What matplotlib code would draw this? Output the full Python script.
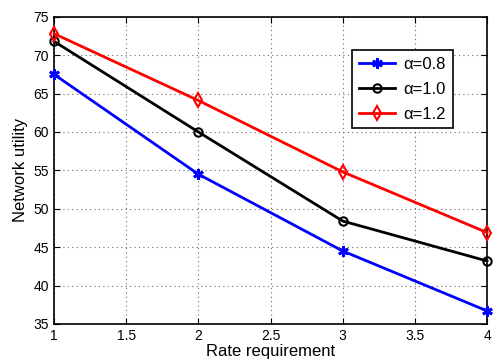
import matplotlib
matplotlib.use("Agg")
import matplotlib.pyplot as plt

plt.rcParams['font.family'] = ['Liberation Sans', 'DejaVu Sans']

x = [1, 2, 3, 4]
alpha08 = [67.5, 54.5, 44.5, 36.7]
alpha10 = [71.8, 60.0, 48.4, 43.2]
alpha12 = [72.8, 64.1, 54.8, 46.9]
labels = ['α=0.8', 'α=1.0', 'α=1.2']

fig = plt.figure(figsize=(4.93, 3.64), dpi=100)
ax = fig.add_axes([0.1095, 0.11, 0.8785, 0.844])

ax.plot(x, alpha08, color='blue', lw=2, marker=(6, 2, 0), ms=7.5, mew=2, label=labels[0], clip_on=False, zorder=3)
ax.plot(x, alpha10, color='black', lw=2, marker='o', ms=6, mfc='none', mew=1.5, label=labels[1], clip_on=False, zorder=3)
ax.plot(x, alpha12, color='red', lw=2, marker='d', ms=7.5, mfc='none', mew=1.5, label=labels[2], clip_on=False, zorder=3)

ax.set_xlim(1, 4)
ax.set_ylim(35, 75)
ax.set_xticks([1, 1.5, 2, 2.5, 3, 3.5, 4])
ax.set_xticklabels(['1', '1.5', '2', '2.5', '3', '3.5', '4'])
ax.set_yticks(range(35, 80, 5))
ax.grid(True, linestyle=(0, (1, 3)), color='#666666', lw=0.8)
ax.tick_params(direction='in', top=True, right=True, labelsize=10, length=4)
for s in ax.spines.values():
    s.set_linewidth(1.2)
ax.set_xlabel('Rate requirement', fontsize=12, labelpad=1)
ax.set_ylabel('Network utility', fontsize=12, labelpad=4)

leg = ax.legend(loc='upper right', bbox_to_anchor=(0.921, 0.892), borderaxespad=0, fontsize=12, fancybox=False,
                edgecolor='black', framealpha=1, handlelength=2.2, handletextpad=0.5, borderpad=0.4, labelspacing=0.6)
leg.get_frame().set_linewidth(1.2)

fig.savefig('out.png', dpi=100)
